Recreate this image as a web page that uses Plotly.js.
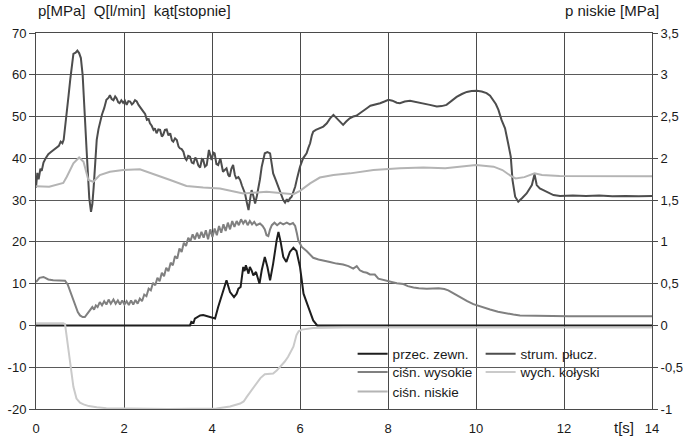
<!DOCTYPE html>
<html>
<head>
<meta charset="utf-8">
<script src="https://cdn.plot.ly/plotly-3.0.1.min.js"></script>
<style>html,body{margin:0;padding:0;background:#fff;}#chart{width:685px;height:437px;}</style>
</head>
<body>
<div id="chart"></div>
<script>
// ---- data ----
const przecX = [0,3.50,3.53,3.58,3.61,3.73,3.80,3.88,4.00,4.07,4.14,4.20,4.26,4.33,4.37,4.41,4.50,4.56,4.60,4.65,4.71,4.74,4.77,4.83,4.86,4.90,4.94,5.00,5.08,5.13,5.20,5.26,5.32,5.39,5.47,5.51,5.56,5.62,5.69,5.77,5.85,5.92,6.00,6.08,6.19,6.30,6.39,14];
const przecY = [0,0,0.85,0.6,1.65,2.4,2.5,2.2,1.9,1.65,4.4,6.5,8.4,10.8,9.4,8.0,6.8,7.6,8.8,9.2,14.0,13.0,14.4,12.4,14.0,13.2,12.0,12.8,10.0,13.2,16.4,14.0,10.8,14.8,20.4,22.4,20.0,16.4,15.2,17.6,18.6,17.8,14.0,7.6,4.4,1.2,0,0];

const strumX = [0.00,0.03,0.06,0.10,0.13,0.17,0.22,0.28,0.34,0.40,0.46,0.52,0.56,0.60,0.63,0.66,0.70,0.74,0.78,0.82,0.85,0.90,0.94,0.98,1.02,1.06,1.09,1.12,1.15,1.18,1.21,1.25,1.28,1.31,1.34,1.38,1.42,1.46,1.50,1.55,1.60,1.65,1.68,1.72,1.76,1.80,1.83,1.87,1.90,1.94,1.98,2.02,2.06,2.10,2.14,2.18,2.21,2.25,2.29,2.33,2.36,2.40,2.44,2.48,2.52,2.56,2.59,2.63,2.67,2.70,2.74,2.78,2.82,2.86,2.89,2.93,2.97,3.01,3.05,3.09,3.12,3.16,3.20,3.24,3.27,3.31,3.35,3.39,3.42,3.46,3.50,3.54,3.58,3.62,3.65,3.69,3.73,3.77,3.80,3.84,3.88,3.93,3.99,4.03,4.06,4.10,4.14,4.19,4.22,4.25,4.29,4.33,4.37,4.40,4.44,4.48,4.52,4.55,4.60,4.64,4.68,4.72,4.75,4.79,4.83,4.87,4.90,4.94,4.98,5.02,5.05,5.09,5.13,5.17,5.20,5.26,5.32,5.36,5.39,5.45,5.51,5.56,5.62,5.66,5.70,5.73,5.77,5.81,5.85,5.89,5.94,6.00,6.07,6.15,6.19,6.23,6.27,6.30,6.36,6.45,6.53,6.61,6.68,6.76,6.83,6.90,6.98,7.05,7.13,7.21,7.28,7.36,7.44,7.52,7.60,7.70,7.82,7.92,8.01,8.10,8.20,8.27,8.38,8.50,8.65,8.80,8.95,9.11,9.22,9.33,9.45,9.56,9.68,9.79,9.90,10.02,10.13,10.24,10.32,10.39,10.45,10.51,10.58,10.66,10.70,10.73,10.79,10.83,10.89,10.96,11.05,11.15,11.27,11.33,11.38,11.45,11.53,11.65,11.76,11.91,12.2,12.5,12.8,13.1,13.4,13.7,14.0];
const strumY = [33,36.5,35,37.5,37,39,40,41,41.5,42,42.5,43,44,43.6,44.5,47,51,55,59,63,65,65.3,65.8,65.2,64,60,55,48,42,36,30.5,27.2,29,33,39,44.4,47,48.8,50.5,52,54,54.5,55.1,54.2,53.9,54.8,54.4,53.4,53.2,53.9,53.3,53.8,52.8,53.7,53.6,52.9,53.2,53.9,53.6,52.8,52.4,52,51.2,50.6,49.2,49.4,48.4,47.8,46.8,47.2,46.0,46.9,46.8,45.2,45.6,46.8,46.9,45.5,46,44.3,44.0,44.8,44.4,42.8,42.4,42.2,41.6,40.0,39.6,40.6,40.4,39.0,38.8,40.2,39.6,38.3,37.8,39.8,39.6,38.0,38.4,42.0,39.6,41.4,41.2,38.6,38.4,40.0,38.2,36.8,37.2,37.6,36.0,35.6,37.5,38.4,36.0,35.2,35.5,34.8,33.5,32.5,31.6,29.5,27.6,30.5,32.4,31,29.2,31,32.4,35,38,40,41.2,41.5,41.2,38.5,36.4,34.8,33.2,31.5,30,29.4,30.2,29.6,30.4,30.8,31.8,33.2,35.5,38,40,41.2,42.5,43.6,45.5,46.4,46.8,47.2,47.6,48.4,49.5,50.4,49.6,48.8,48,48.8,49.6,50,50.2,50.8,51.5,52,52.6,52.8,53.2,53.6,54,53.8,53.3,53.2,53.6,53.8,53.5,53.2,52.8,52.4,52.5,52.8,53.8,54.7,55.4,55.9,56.1,56.2,56.0,55.6,55.0,54,53,51.6,49.2,47.2,45.5,43.6,40.4,34.8,30.8,29.6,30.5,31.6,33.6,36.2,33.6,32.8,32.4,31.7,31.2,31.0,31.1,31.0,31.1,30.9,31.0,30.9,31.0];

const wysX = [0.00,0.08,0.17,0.28,0.39,0.55,0.66,0.72,0.77,0.83,0.89,0.95,1.00,1.06,1.11,1.17,1.23,1.28,1.32,1.36,1.40,1.45,1.50,1.55,1.60,1.65,1.70,1.76,1.81,1.86,1.91,1.96,2.01,2.06,2.11,2.16,2.21,2.26,2.31,2.36,2.41,2.46,2.51,2.56,2.61,2.66,2.71,2.76,2.81,2.86,2.91,2.96,3.01,3.06,3.11,3.16,3.21,3.26,3.31,3.36,3.41,3.46,3.51,3.56,3.61,3.66,3.71,3.76,3.81,3.86,3.91,3.96,4.01,4.06,4.11,4.16,4.21,4.26,4.31,4.36,4.41,4.46,4.51,4.56,4.61,4.66,4.71,4.76,4.81,4.86,4.91,4.96,5.01,5.09,5.15,5.20,5.24,5.28,5.32,5.36,5.42,5.48,5.55,5.62,5.70,5.77,5.84,5.89,5.93,5.96,6.00,6.04,6.15,6.30,6.42,6.53,6.68,6.83,6.98,7.10,7.21,7.29,7.36,7.44,7.52,7.59,7.70,7.78,7.90,8.05,8.20,8.35,8.45,8.58,8.70,8.88,9.00,9.15,9.28,9.37,9.50,9.64,9.80,9.94,10.13,10.32,10.50,10.70,10.85,11.0,11.5,12.1,13,14];
const wysY = [10.4,11.4,11.6,11.0,10.8,10.7,10.7,9.8,8.4,6.5,4.8,3.2,2.4,2.0,2.0,2.8,3.6,4.4,3.8,4.8,4.4,5.6,4.8,5.8,5.0,6.2,5.2,6.2,5.2,6.0,5.0,6.0,5.0,5.8,4.9,6.0,5.0,6.1,5.2,6.4,5.8,7.4,7.0,8.8,8.4,10.2,9.6,11.4,10.6,12.6,11.8,13.8,13.0,15.0,14.4,16.6,16.0,18.4,17.6,19.8,19.0,21.0,20.2,21.8,20.6,22.2,20.8,22.4,21.0,22.8,20.6,23.0,21.2,23.2,21.6,23.8,22.2,24.2,22.6,24.6,23.0,25.0,23.6,25.0,24.0,25.4,24.4,25.2,24.0,25.0,24.2,24.8,24.0,24.4,23.8,23.0,21.6,21.4,23.0,24.0,24.6,24.0,24.6,24.2,24.6,24.2,24.5,23.8,22.0,20.4,19.6,18.8,17.8,16.2,15.8,15.6,15.2,14.8,14.6,14.2,13.6,14.2,13.2,12.8,12.6,12.2,12.2,11.2,10.9,10.4,10.1,9.9,9.4,9.1,8.9,8.8,8.9,8.9,8.7,8.4,7.6,6.7,5.8,5.1,4.4,3.8,3.3,2.85,2.6,2.4,2.3,2.2,2.2,2.2];

const wychX = [0,0.62,0.66,0.71,0.77,0.85,0.92,1.00,1.08,1.20,1.38,1.6,2.14,3.0,4.1,4.25,4.41,4.64,4.72,4.79,4.90,5.02,5.10,5.20,5.39,5.47,5.55,5.65,5.73,5.80,5.85,5.92,5.97,6.04,6.30,7,10,14];
const wychY = [0.5,0.5,0.3,-3.5,-9.1,-14.7,-17.5,-18.5,-18.9,-19.3,-19.6,-19.8,-19.9,-20,-19.9,-19.6,-19.4,-18.7,-18.2,-17.1,-15.5,-13.9,-12.6,-11.7,-11.5,-10.8,-9.9,-8.7,-7.5,-6.3,-5.1,-2.3,-1.4,-1.0,-0.6,-0.5,-0.5,-0.5];

// ciśn. niskie in MPa (right axis)
const niskX = [0.00,0.30,0.62,0.70,0.85,0.98,1.08,1.19,1.30,1.45,1.68,1.98,2.36,2.64,3.05,3.42,3.80,4.18,4.41,4.71,5.24,5.62,5.85,6.00,6.23,6.45,6.76,7.14,7.67,8.27,8.8,9.3,10.0,10.4,10.6,10.79,10.9,11.1,11.33,11.5,11.9,14];
const niskY = [1.667,1.66,1.705,1.78,1.94,2.01,1.96,1.74,1.72,1.80,1.84,1.86,1.87,1.82,1.74,1.67,1.65,1.64,1.61,1.58,1.60,1.58,1.57,1.61,1.70,1.77,1.80,1.82,1.86,1.88,1.89,1.88,1.92,1.90,1.86,1.79,1.76,1.775,1.82,1.80,1.79,1.785];

const xTicks = [0,2,4,6,8,10,12,14];
const xTickText = ['0','2','4','6','8','10','12','14'];
const yTicks = [-20,-10,0,10,20,30,40,50,60,70];
const yTickText = ['-20','-10','0','10','20','30','40','50','60','70'];
const y2Ticks = [-1,-0.5,0,0.5,1,1.5,2,2.5,3,3.5];
const y2TickText = ['-1','-0,5','0','0,5','1','1,5','2','2,5','3','3,5'];

const FONT = 'Liberation Sans, Arial, sans-serif';
const TXT = '#1a1a1a';

const traces = [
  {x: przecX, y: przecY, name: 'przec. zewn.', mode: 'lines', line: {color: '#1e1e1e', width: 2}, legend: 'legend'},
  {x: strumX, y: strumY, name: 'strum. płucz.', mode: 'lines', line: {color: '#4d4d4d', width: 2}, legend: 'legend'},
  {x: wysX, y: wysY, name: 'ciśn. wysokie', mode: 'lines', line: {color: '#808080', width: 2}, legend: 'legend2'},
  {x: wychX, y: wychY, name: 'wych. kołyski', mode: 'lines', line: {color: '#cacaca', width: 2}, legend: 'legend2'},
  {x: niskX, y: niskY, name: 'ciśn. niskie', mode: 'lines', line: {color: '#b4b4b4', width: 2}, yaxis: 'y2', legend: 'legend3'}
];

function leg(y) {
  return {orientation: 'h', x: 0.514, y: y, xanchor: 'left', yanchor: 'middle',
    bgcolor: 'rgba(0,0,0,0)', borderwidth: 0, font: {family: FONT, size: 13.5, color: TXT},
    entrywidth: 83, entrywidthmode: 'pixels', itemwidth: 30, tracegroupgap: 0};
}

const layout = {
  width: 685, height: 437,
  margin: {l: 36, r: 33, t: 33, b: 28, pad: 0},
  paper_bgcolor: '#fff', plot_bgcolor: '#fff',
  font: {family: FONT, size: 13, color: TXT},
  showlegend: true,
  legend: leg(0.1463),
  legend2: leg(0.0976),
  legend3: leg(0.046),
  xaxis: {range: [0, 14], tickvals: xTicks, ticktext: xTickText, showgrid: true, gridcolor: '#4a4a4a', gridwidth: 1,
    showline: true, linecolor: '#4a4a4a', linewidth: 1, mirror: true, zeroline: false,
    ticks: 'outside', ticklen: 7, tickcolor: 'rgba(0,0,0,0)', tickfont: {size: 13}},
  yaxis: {range: [-20, 70], tickvals: yTicks, ticktext: yTickText, showgrid: true, gridcolor: '#5a5a5a', gridwidth: 1,
    zeroline: true, zerolinecolor: '#333', zerolinewidth: 1,
    showline: true, linecolor: '#4a4a4a', linewidth: 1, ticks: 'outside', ticklen: 6, tickcolor: '#4a4a4a', tickfont: {size: 13}},
  yaxis2: {range: [-1, 3.5], tickvals: y2Ticks, ticktext: y2TickText, overlaying: 'y', side: 'right', showgrid: false,
    zeroline: false, showline: true, linecolor: '#4a4a4a', linewidth: 1, ticks: 'outside', ticklen: 5, tickcolor: '#4a4a4a', tickfont: {size: 13}},
  annotations: [
    {text: 'p[MPa]\u00a0\u00a0Q[l/min]\u00a0\u00a0kąt[stopnie]', xref: 'paper', yref: 'paper', x: 0, y: 1, xanchor: 'left', yanchor: 'bottom', yshift: 12, showarrow: false, font: {size: 15, color: TXT}},
    {text: 'p niskie [MPa]', xref: 'paper', yref: 'paper', x: 1.0146, y: 1, xanchor: 'right', yanchor: 'bottom', yshift: 12, showarrow: false, font: {size: 15, color: TXT}},
    {text: 't[s]', xref: 'paper', yref: 'paper', x: 0.935, y: 0, xanchor: 'left', yanchor: 'top', yshift: -8, showarrow: false, font: {size: 15, color: TXT}}
  ]
};

Plotly.newPlot('chart', traces, layout, {displayModeBar: false, staticPlot: true});
</script>
</body>
</html>
